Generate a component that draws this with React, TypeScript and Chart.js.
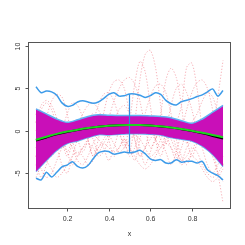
import React, { useEffect, useRef } from 'react';
import { Chart, registerables } from 'chart.js';

Chart.register(...registerables);

// x positions
const xGrid = [0.05, 0.075, 0.1, 0.125, 0.15, 0.175, 0.2, 0.225, 0.25, 0.275, 0.3, 0.325, 0.35, 0.375, 0.4, 0.425, 0.45, 0.475, 0.5, 0.525, 0.55, 0.575, 0.6, 0.625, 0.65, 0.675, 0.7, 0.725, 0.75, 0.775, 0.8, 0.825, 0.85, 0.875, 0.9, 0.925, 0.95];
const xBand = [0.05, 0.1, 0.15, 0.2, 0.25, 0.3, 0.35, 0.4, 0.45, 0.5, 0.55, 0.6, 0.65, 0.7, 0.75, 0.8, 0.85, 0.9, 0.95];

// axis ticks
const xTicks = [0.2, 0.4, 0.6, 0.8];
const yTicks = [-5, 0, 5, 10];
const xLabel = 'x';

// central band
const bandUpper = [2.6, 2.0, 1.4, 1.0, 1.3, 1.7, 1.9, 1.85, 1.8, 1.8, 1.8, 1.75, 1.7, 1.55, 1.2, 0.9, 1.4, 2.2, 3.0];
const bandLower = [-4.8, -3.5, -2.3, -1.5, -1.2, -0.8, -0.45, -0.5, -0.4, -0.35, -0.35, -0.4, -0.5, -0.8, -1.0, -1.2, -1.8, -2.8, -4.2];

// mean curves
const meanBlack = [-1.15, -0.78, -0.42, -0.13, 0.11, 0.31, 0.47, 0.59, 0.67, 0.7, 0.68, 0.62, 0.52, 0.38, 0.2, -0.03, -0.3, -0.6, -0.92];
const meanGreen = [-1.05, -0.7, -0.36, -0.09, 0.14, 0.33, 0.49, 0.6, 0.67, 0.7, 0.69, 0.63, 0.54, 0.4, 0.23, 0.02, -0.22, -0.48, -0.76];

// outer envelope
const outerUpper = [5.2, 4.5, 4.7, 4.6, 4.2, 3.3, 2.9, 3.0, 3.4, 3.55, 3.4, 3.25, 3.4, 3.8, 4.3, 4.5, 4.1, 4.15, 4.35, 4.35, 4.2, 3.95, 4.15, 4.5, 4.3, 3.6, 3.2, 3.05, 3.45, 3.6, 3.8, 4.05, 4.25, 4.6, 4.95, 4.1, 4.75];
const outerLower = [-5.6, -5.8, -4.9, -5.45, -4.9, -4.25, -4.05, -3.65, -4.2, -4.4, -4.1, -3.3, -2.6, -2.4, -2.45, -2.75, -2.65, -2.5, -2.6, -2.5, -2.3, -2.7, -3.3, -3.5, -3.4, -3.8, -3.8, -3.4, -3.7, -3.6, -3.6, -3.8, -3.6, -4.6, -5.0, -5.3, -5.8];

// vertical segment
const vertX = 0.5;
const vertTop = 4.33;
const vertBottom = -2.62;

// sample curves (red dotted)
const r1 = [-2, -1, 0.5, 1.2, 0.5, -1, -2.5, -1, 0, 0.3, 0, -1, -2.5, -1.5, -0.5, 0, -0.5, -1.5, -2.5, 1, 6, 9, 9.5, 7.5, 3, -1.5, 0, 1, 0.5, -1, -3, -1.5, 0, 0.5, -0.5, -2.5, -4];
const r2 = [1, 2.5, 3.3, 2.5, 0.5, -2, -1, 0.5, 1, 0.5, -1, -3, -2, -1, 0, 1, 0, -2, 1, 5.5, 8.2, 7, 3, -1, -3, -1, 0.5, 1, 3, 7.5, 8, 5, 0.5, -1, -3, -2, -1];
const r3 = [-3, -1, 1.5, 3.5, 4.3, 4, 2, -1, -3, -2, -1, -0.5, -1, -2, -3.5, -2, 0, 1, 0.5, -1, -3, -2, 0, -1, 2, 6, 7.4, 6.3, 3, -1.5, 0, 0.5, 0, -1.5, -3, -5, -6];
const r4 = [-5.5, -4, -2, -1, -2, -4, -5, -3, -1, 0.5, 1.5, 2, 1, -0.5, 1.5, 3.5, 5, 6, 6.3, 5.5, 3.5, 0.5, -2, -1, 0.5, 1, 0, -2, -3.5, -2, -1, 0, 1, 0.5, -2, -5, -8.5];
const r5 = [0, 1, 0, -1.5, -2, 0, 2, 3.3, 3, 1.5, -1, -3, -1, 2, 4.5, 5.8, 6, 5, 2, -1, -3, -2, -1, 0, -1, -2.5, -4, -2.5, 0, 2.5, 4.5, 5.7, 6, 5, 2.5, -1, -4];
const r6 = [-4, -5.5, -4, -2, -1, -1.5, -3, -1.5, 0.5, 2, 3, 3.3, 2.5, 1, -1, -3, -2, -1, -2, -3.5, -1, 2, 4, 5.3, 5.5, 4.5, 2, -1, -3, -4, -2.5, -1, 0, -1, 0, 4, 8.3];
const r7 = [-3, -4.5, -5.5, -5, -3.5, -2, -1, -2, -3.5, -4, -3, -1.5, -0.5, 0, -0.5, -1.5, -2.5, -2, -1, -0.5, -1, -2, -3, -2.5, -1, 0, -1, -2.5, -3.5, -3, -2, -2.5, -4, -5, -5.5, -5, -4];
const r8 = [2, 0, -2, -3, -2, 0, 1, 0.5, -1, -2.5, -1, 1, 3, 4.3, 4.5, 3.5, 1.5, -1, -3, -2, 0, 1, 0.5, -1, -2, 0, 3, 5, 5.5, 4.5, 2.5, 0, -2, -4, -5, -4, -3];
const r9 = [1, 3, 3.6, 3, 1.5, -0.5, -2.5, -4, -3, -2, -1.5, -2, -3, -2.5, -1, 1, 2.5, 3, 2, 0, -2, -4, -2.5, -1, 0, -0.5, -2, -3.5, -2, 0, 1, 2, 3.5, 4.5, 4, 2, -1];
const r10 = [-1, -2, -3.5, -4.5, -5.5, -5, -4, -3, -2.5, -3, -4, -3.5, -2, -1.5, -2, -2.5, -2, -1, -2, -3, -4, -4.5, -4, -3, -2, -1.5, -2, -3, -4, -3.5, -3, -3.5, -4.5, -5.5, -6, -5.5, -4.5];
const redCurves = [r1, r2, r3, r4, r5, r6, r7, r8, r9, r10];

const X_MIN = 0.014;
const X_MAX = 0.986;
const Y_MIN = -9.17;
const Y_MAX = 10.43;

const pts = (xs: number[], ys: number[]) => ys.map((y, i) => ({ x: xs[i], y }));

const FONT = '7px "Liberation Sans", Arial, sans-serif';

export default function App() {
  const ref = useRef<HTMLCanvasElement>(null);

  useEffect(() => {
    if (!ref.current) return;

    const axesPlugin = {
      id: 'rAxes',
      afterDraw(chart: any) {
        const { ctx, chartArea: a, scales } = chart;
        const xs = scales.x;
        const ys = scales.y;
        ctx.save();
        ctx.strokeStyle = '#555';
        ctx.lineWidth = 1;
        ctx.strokeRect(a.left, a.top, a.right - a.left, a.bottom - a.top);
        ctx.fillStyle = '#333';
        ctx.font = FONT;
        ctx.textAlign = 'center';
        ctx.textBaseline = 'middle';
        xTicks.forEach((t) => {
          const px = Math.round(xs.getPixelForValue(t)) + 0.5;
          ctx.beginPath();
          ctx.moveTo(px, a.bottom);
          ctx.lineTo(px, a.bottom + 3);
          ctx.stroke();
          ctx.fillText(String(t), px, a.bottom + 11);
        });
        yTicks.forEach((t) => {
          const py = Math.round(ys.getPixelForValue(t)) + 0.5;
          ctx.beginPath();
          ctx.moveTo(a.left, py);
          ctx.lineTo(a.left - 3, py);
          ctx.stroke();
          ctx.save();
          ctx.translate(a.left - 10, py);
          ctx.rotate(-Math.PI / 2);
          ctx.fillText(String(t), 0, 0);
          ctx.restore();
        });
        ctx.fillText(xLabel, (a.left + a.right) / 2, a.bottom + 26);
        ctx.restore();
      },
    };

    const blue = '#3d9be9';
    const datasets: any[] = [
      { label: 'green', data: pts(xBand, meanGreen), borderColor: '#1fd41f', borderWidth: 2, order: 0 },
      { label: 'black', data: pts(xBand, meanBlack), borderColor: '#000000', borderWidth: 2, order: 1 },
      { label: 'vert', data: [{ x: vertX, y: vertTop }, { x: vertX, y: vertBottom }], borderColor: '#2f8de0', borderWidth: 1.2, tension: 0, order: 2 },
      { label: 'outerU', data: pts(xGrid, outerUpper), borderColor: blue, borderWidth: 1.5, order: 3 },
      { label: 'outerL', data: pts(xGrid, outerLower), borderColor: blue, borderWidth: 1.5, order: 3 },
      { label: 'bandU', data: pts(xBand, bandUpper), borderColor: '#5fb2f3', borderWidth: 1.5, backgroundColor: '#c90fb8', fill: 6, order: 5 },
      { label: 'bandL', data: pts(xBand, bandLower), borderColor: '#5fb2f3', borderWidth: 1.5, fill: false, order: 5 },
      ...redCurves.map((c, i) => ({
        label: 'r' + (i + 1),
        data: pts(xGrid, c),
        borderColor: 'rgba(236,80,95,0.45)',
        borderWidth: 1,
        borderDash: [1.2, 1.8],
        order: 10,
      })),
    ];

    const chart = new Chart(ref.current, {
      type: 'line',
      data: { datasets },
      options: {
        animation: false,
        responsive: false,
        maintainAspectRatio: false,
        devicePixelRatio: 1,
        parsing: false as any,
        layout: { padding: { left: 28.5, right: 14.5, top: 42.5, bottom: 36.5 } },
        elements: {
          point: { radius: 0, hoverRadius: 0 },
          line: { tension: 0.3, fill: false },
        },
        scales: {
          x: { type: 'linear', min: X_MIN, max: X_MAX, display: false },
          y: { type: 'linear', min: Y_MIN, max: Y_MAX, display: false },
        },
        plugins: {
          legend: { display: false },
          tooltip: { enabled: false },
          title: { display: false },
        },
        events: [],
      },
      plugins: [axesPlugin],
    });

    return () => chart.destroy();
  }, []);

  return (
    <div style={{ position: 'fixed', left: 0, top: 0, width: 245, height: 245, background: '#ffffff' }}>
      <canvas ref={ref} width={245} height={245} style={{ width: 245, height: 245, display: 'block' }} />
    </div>
  );
}
